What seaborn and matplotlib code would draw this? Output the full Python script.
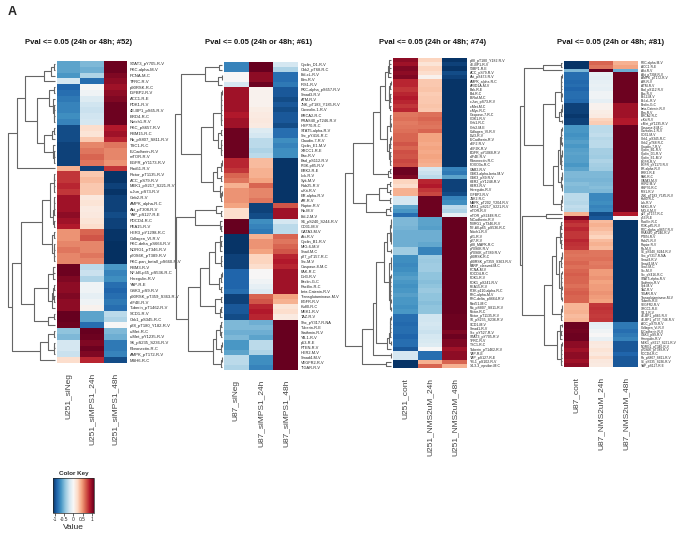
import numpy as np
import pandas as pd
import seaborn as sns
import matplotlib
matplotlib.use("Agg")
import matplotlib.pyplot as plt
from matplotlib.cm import ScalarMappable
from matplotlib.colors import Normalize

# ---------------- data ----------------
p1_title = "Pval <= 0.05 (24h or 48h; #52)"
p1_cols = ["U251_siNeg", "U251_siMPS1_24h", "U251_siMPS1_48h"]
p1_rows = ("STAT3_pY705-R-V PKC-alpha-M-V PCNA-M-C TFRC-R-V p90RSK-R-C IGFBP2-R-V ACC1-R-E PDK1-R-V "
           "4E-BP1_pS65-R-V BRD4-R-C Notch1-R-V PKC_pS657-R-V RBM15-R-C Rb_pS807_S811-R-V TSC1-R-C "
           "E-Cadherin-R-V mTOR-R-V EGFR_pY1173-R-V Rad51-R-V Rictor_pT1135-R-V ACC_pS79-R-V "
           "MEK1_pS217_S221-R-V c-Jun_pS73-R-V Gab2-R-V AMPK_alpha-R-C Akt_pT308-R-V YAP_pS127-R-E "
           "PDCD4-R-C PEA15-R-V HER3_pY1298-R-C Collagen_VI-R-V PKC-delta_pS664-R-V NDRG1_pT346-R-V "
           "p70S6K_pT389-R-V PKC-pan_betaII_pS660-R-V RBM3-R-V NF-kB-p65_pS536-R-C Heregulin-R-V YAP-R-E "
           "GSK3_pS9-R-V p90RSK_pT359_S363-R-V eIF4E-R-V Tuberin_pT1462-R-V SCD1-R-V Chk1_pS345-R-C "
           "p38_pT180_Y182-R-V c-Met-R-C c-Met_pY1235-R-V S6_pS235_S236-R-V Fibronectin-R-C "
           "AMPK_pT172-R-V MSH6-R-C").split()
p1_c1 = [-0.60, -0.60, -0.65, -0.20, -0.90, -0.85, -0.80, -0.75, -0.75, -0.70,
         -0.75, -1.00, -1.00, -1.00, -1.05, -1.05, -1.05, -1.05, 0.40, 0.80,
         0.80, 0.85, 0.80, 0.95, 0.95, 0.95, 1.00, 0.95, 0.90, 0.50,
         0.50, 0.55, 0.60, 0.55, 0.55, 1.10, 1.10, 1.05, 1.00, 1.00,
         1.05, 1.00, 1.00, 1.15, 1.15, 1.10, -0.45, -0.50, -0.20, -0.20,
         -0.25, 0.20]
p1_c2 = [-0.50, -0.55, -0.35, -0.85, 0.00, -0.05, -0.15, -0.22, -0.25, -0.22,
         -0.20, 0.20, 0.15, 0.30, 0.55, 0.60, 0.65, 0.60, -1.05, 0.30,
         0.35, 0.30, 0.30, 0.12, 0.15, 0.10, 0.12, 0.15, 0.20, 0.65,
         0.70, 0.55, 0.55, 0.60, 0.55, -0.30, -0.25, -0.35, -0.05, -0.05,
         -0.10, -0.05, 0.05, -0.60, -0.60, -0.85, 1.15, 1.10, 1.05, 1.10,
         1.05, 0.85]
p1_c3 = [1.10, 1.10, 1.05, 1.00, 0.95, 1.00, 1.05, 1.10, 1.10, 1.10,
         1.10, 0.90, 0.95, 0.85, 0.60, 0.55, 0.55, 0.50, 0.80, -1.10,
         -1.10, -1.05, -1.10, -1.05, -1.05, -1.05, -1.00, -1.05, -1.05, -1.10,
         -1.10, -1.15, -1.15, -1.15, -1.15, -0.65, -0.75, -0.70, -0.85, -0.90,
         -0.85, -0.80, -0.85, -0.30, -0.35, 0.00, -0.50, -0.55, -0.80, -0.80,
         -0.75, -1.00]

p2_title = "Pval <= 0.05 (24h or 48h; #61)"
p2_cols = ["U87_siNeg", "U87_siMPS1_24h", "U87_siMPS1_48h"]
p2_rows = ("Cyclin_D1-R-V Chk2_pT68-R-C Bcl-xL-R-V Bim-R-V IRS1-R-V PKC-alpha_pS657-R-V Smad3-R-V ATM-R-V "
           "JNK_pT183_Y185-R-V Caveolin-1-R-V BRCA2-R-C PRAS40_pT246-R-V HSP70-R-C STAT5-alpha-R-V "
           "Src_pY416-R-C Claudin-7-R-V Cyclin_E1-M-V XRCC1-R-E Bax-R-V Bad_pS112-R-V PI3K-p85-R-V "
           "ERK2-R-E Lck-R-V Syk-M-V Rab25-R-V c-Kit-R-V ER-alpha-R-V AR-R-V Raptor-R-V Rb-M-V Bcl-2-M-V "
           "S6_pS240_S244-R-V CD31-M-V GATA3-M-V Akt-R-V Cyclin_B1-R-V MIG-6-M-V Snail-M-C p27_pT157-R-C "
           "Src-M-V Caspase-8-M-C FAK-R-C Dvl3-R-V Beclin-G-C Paxillin-R-C beta-Catenin-R-V "
           "Transglutaminase-M-V EGFR-R-V Ku80-R-C MEK1-R-V TAZ-R-V Shc_pY317-R-NA Tuberin-R-E "
           "Stathmin-R-V YB-1-R-V p53-R-E PTEN-R-V HER2-M-V Smad4-M-V VEGFR2-R-V TIGAR-R-V").split()
p2_c1 = [-0.75, -0.75, 0.00, 0.00, -0.20, 0.95, 0.95, 0.95, 0.95, 0.95,
         0.90, 0.95, 0.95, 1.10, 1.10, 1.10, 1.10, 1.10, 1.10, 0.85,
         0.85, 0.80, 0.65, 0.60, 0.40, 0.50, 0.50, 0.50, 0.45, 0.20,
         0.20, 1.15, 1.15, 1.15, -1.10, -1.10, -1.10, -1.10, -1.05, -1.05,
         -1.05, -0.90, -0.90, -0.90, -0.90, -0.85, -1.05, -1.05, -0.95, -0.95,
         -1.00, -0.50, -0.50, -0.55, -0.50, -0.65, -0.65, -0.60, -0.30, -0.30,
         -0.35]
p2_c2 = [1.15, 1.15, 1.00, 1.00, 1.10, 0.05, 0.05, 0.05, 0.05, 0.08,
         0.10, 0.12, 0.10, -0.15, -0.20, -0.30, -0.30, -0.35, -0.30, 0.35,
         0.35, 0.40, 0.40, 0.45, 0.65, 0.55, 0.55, 0.60, -1.05, -1.05,
         -1.00, -0.70, -0.75, -0.80, 0.40, 0.50, 0.50, 0.45, 0.25, 0.25,
         0.20, 0.00, 0.00, -0.05, -0.10, -0.15, 0.65, 0.70, 0.85, 0.90,
         0.85, -0.55, -0.50, -0.55, -0.60, -0.30, -0.30, -0.35, -0.70, -0.70,
         -0.75]
p2_c3 = [-0.20, -0.35, -0.85, -0.85, -0.80, -0.95, -0.95, -1.00, -0.95, -1.00,
         -0.95, -0.95, -1.00, -0.85, -0.85, -0.70, -0.75, -0.70, -0.70, -1.10,
         -1.10, -1.10, -1.10, -1.10, -1.10, -1.10, -1.10, -1.10, 0.70, 0.95,
         0.95, -0.20, -0.30, -0.30, 0.65, 0.60, 0.65, 0.70, 0.85, 0.90,
         0.85, 0.95, 0.95, 0.95, 0.95, 0.95, 0.45, 0.40, 0.15, 0.20,
         0.10, 1.15, 1.15, 1.15, 1.15, 1.15, 1.15, 1.15, 1.15, 1.15,
         1.15]

p3_title = "Pval <= 0.05 (24h or 48h; #74)"
p3_cols = ["U251_cont", "U251_NMS2uM_24h", "U251_NMS2uM_48h"]
p3_rows = ("p38_pT180_Y182-R-V 4E-BP1-R-V 53BP1-R-E ACC_pS79-R-V Akt_pS473-R-V AMPK_alpha-R-C ARID1A-M-V "
           "Bak-R-E Bid-R-C B-Raf-M-C c-Jun_pS73-R-V c-Met-M-C c-Myc-R-C Caspase-7-R-C CDK1-R-V Chk1-R-C "
           "Chk2-M-E Collagen_VI-R-V Dvl3-R-V E-Cadherin-R-V eEF2-R-V eEF2K-R-V EGFR_pY1068-R-V eIF4E-R-V "
           "Fibronectin-R-C FOXO3a-R-C GAB2-R-V GSK3-alpha-beta-M-V GSK3_pS9-R-V HER2_pY1248-R-V HER3-R-V "
           "Heregulin-R-V IGFBP2-R-V JNK2-R-C MAPK_pT202_Y204-R-V MEK1_pS217_S221-R-V mTOR-R-V "
           "mTOR_pS2448-R-C N-Cadherin-R-V NDRG1_pT346-R-V NF-kB-p65_pS536-R-C Notch1-R-V p21-R-V p27-R-V "
           "p38_MAPK-R-C p70S6K-R-V p70S6K_pT389-R-V p90RSK-R-C p90RSK_pT359_S363-R-V PARP_cleaved-M-C "
           "PCNA-M-V PDCD4-R-C PDK1-R-V PDK1_pS241-R-V PEA15-R-V PI3K-p110-alpha-R-C PKC-alpha-M-V "
           "PKC-delta_pS664-R-V Rad51-M-C Rb_pS807_S811-R-V Rictor-R-C Rictor_pT1135-R-V S6_pS235_S236-R-V "
           "SCD1-M-V Smad1-R-V Src_pY527-R-V STAT3_pY705-R-V TFRC-R-V TSC1-R-C Tuberin_pT1462-R-V YAP-R-E "
           "YAP_pS127-R-E YB-1_pS102-R-V 14-3-3_epsilon-M-C").split()
p3_c1 = [1.00, 0.95, 1.05, 1.00, 1.05,
         0.85, 0.85, 0.80, 0.85, 0.90, 0.85, 0.80, 0.85,
         0.60, 0.62, 0.58, 0.60, 0.62,
         0.65, 0.65, 0.70, 0.65,
         0.72, 0.70, 0.75, 0.72,
         1.10, 1.10, 1.05,
         0.25, 0.20, 0.40, 0.40,
         -0.20, -0.20,
         -0.60, -0.65, -0.85,
         -0.50, -0.50, -0.52, -0.55, -0.55, -0.55, -0.55,
         -0.40, -0.40,
         -0.70, -0.70, -0.72, -0.70,
         -0.65, -0.62, -0.65, -0.68, -0.65, -0.62, -0.65, -0.65, -0.68, -0.65,
         -0.85, -0.85, -0.88, -0.85, -0.85, -0.90, -0.85, -0.85, -0.95,
         -0.20, -0.20,
         -1.10, -1.10]
p3_c2 = [0.25, 0.15, 0.25, 0.20, 0.05,
         0.30, 0.30, 0.32, 0.28, 0.30, 0.30, 0.32, 0.30,
         0.62, 0.65, 0.62, 0.60, 0.65,
         0.45, 0.45, 0.42, 0.45,
         0.42, 0.45, 0.42, 0.40,
         -0.20, -0.25, -0.30,
         0.85, 0.90, 0.80, 0.75,
         1.10, 1.10,
         1.10, 1.10, 1.10,
         -0.60, -0.60, -0.62, -0.55, -0.55, -0.55, -0.58,
         -0.75, -0.75,
         -0.40, -0.42, -0.40, -0.40,
         -0.45, -0.45, -0.48, -0.45, -0.42, -0.45, -0.45, -0.48, -0.45, -0.45,
         -0.22, -0.22, -0.20, -0.22, -0.25, -0.20, -0.18, -0.15, 0.00,
         -0.85, -0.85,
         0.40, 0.65]
p3_c3 = [-1.10, -1.05, -1.10, -1.00, -1.05,
         -1.10, -1.10, -1.10, -1.10, -1.10, -1.10, -1.10, -1.10,
         -1.10, -1.10, -1.10, -1.10, -1.10,
         -1.10, -1.10, -1.10, -1.10,
         -1.10, -1.10, -1.10, -1.10,
         -0.75, -0.80, -0.60,
         -1.05, -1.05, -1.05, -1.00,
         -0.75, -0.70,
         -0.30, -0.35, -0.10,
         1.15, 1.15, 1.15, 1.15, 1.15, 1.15, 1.15,
         1.15, 1.15,
         1.15, 1.15, 1.15, 1.15,
         1.15, 1.15, 1.15, 1.15, 1.15, 1.15, 1.15, 1.15, 1.15, 1.15,
         1.10, 1.10, 1.10, 1.10, 1.05, 1.10, 1.05, 1.05, 0.95,
         1.00, 1.00,
         0.65, 0.40]

p4_title = "Pval <= 0.05 (24h or 48h; #81)"
p4_cols = ["U87_cont", "U87_NMS2uM_24h", "U87_NMS2uM_48h"]
p4_rows = ("PKC-alpha-M-V ACC1-R-E Akt-R-V Akt_pT308-R-V AMPK_pT172-R-V AR-R-V ATM-R-V Bad_pS112-R-V Bax-R-V "
           "Bcl-2-M-V Bcl-xL-R-V Beclin-G-C beta-Catenin-R-V Bim-R-V BRCA2-R-C c-Kit-R-V c-Met_pY1235-R-V "
           "Caspase-8-M-C Caveolin-1-R-V CD31-M-V Chk1_pS345-R-C Chk2_pT68-R-C Claudin-7-R-V Cyclin_B1-R-V "
           "Cyclin_D1-R-V Cyclin_E1-M-V EGFR-R-V EGFR_pY1173-R-V ER-alpha-R-V ERK2-R-E FAK-R-C GATA3-M-V "
           "HER2-M-V HSP70-R-C IRS1-R-V JNK_pT183_Y185-R-V Ku80-R-C Lck-R-V MEK1-R-V MIG-6-M-V "
           "p27_pT157-R-C p53-R-E Paxillin-R-C PI3K-p85-R-V PKC-alpha_pS657-R-V PRAS40_pT246-R-V PTEN-R-V "
           "Rab25-R-V Raptor-R-V Rb-M-V S6_pS240_S244-R-V Shc_pY317-R-NA Smad3-R-V Smad4-M-V Snail-M-C "
           "Src-M-V Src_pY416-R-C STAT5-alpha-R-V Stathmin-R-V Syk-M-V TAZ-R-V TIGAR-R-V "
           "Transglutaminase-M-V Tuberin-R-E VEGFR2-R-V XRCC1-R-E YB-1-R-V 4E-BP1_pS65-R-V "
           "4E-BP1_pT37_T46-R-V ACC_pS79-R-V Collagen_VI-R-V E-Cadherin-R-V GSK3_pS9-R-V Heregulin-R-V "
           "MEK1_pS217_S221-R-V NDRG1_pT346-R-V p70S6K_pT389-R-V PDCD4-R-C Rb_pS807_S811-R-V "
           "S6_pS235_S236-R-V YAP_pS127-R-E").split()
p4_c1 = [-1.10, -1.10, -0.50,
         -0.85, -0.85, -0.88, -0.85, -0.90, -0.85, -0.85, -0.88,
         -1.05, -1.05, -1.05, -1.08,
         -1.05, -1.05,
         -0.65, -0.65, -0.68, -0.65, -0.62, -0.65,
         -0.62, -0.60, -0.62, -0.62, -0.65, -0.60,
         -0.50, -0.50, -0.52, -0.48, -0.50, -0.50,
         -0.30, -0.30, -0.32, -0.28, -0.30,
         0.40, 1.05,
         0.85, 0.80, 0.85, 0.80, 0.80, 0.85, 0.82, 0.80,
         0.62, 0.60, 0.62, 0.65, 0.62,
         0.65, 0.68, 0.65, 0.65, 0.62, 0.65, 0.68, 0.65, 0.65,
         0.38, 0.38, 0.40, 0.35, 0.38,
         1.10, 1.10, 1.08, 1.10, 1.10,
         1.00, 1.00, 0.95, 1.00, 1.00, 0.95, 1.00]
p4_c2 = [0.65, 0.60, 1.15,
         -0.10, -0.12, -0.10, -0.08, -0.10, -0.05, -0.05, -0.10,
         0.05, 0.05, 0.08, 0.10,
         0.25, 0.28,
         -0.30, -0.30, -0.28, -0.32, -0.30, -0.30,
         -0.38, -0.38, -0.40, -0.35, -0.38, -0.40,
         -0.50, -0.50, -0.52, -0.50, -0.48, -0.50,
         -0.72, -0.72, -0.70, -0.75, -0.72,
         -1.00, -0.95,
         0.35, 0.40, 0.35, 0.30, 0.25, 0.35, 0.40, 0.35,
         0.60, 0.60, 0.62, 0.58, 0.60,
         0.48, 0.48, 0.50, 0.45, 0.48, 0.48, 0.50, 0.48, 0.45,
         0.80, 0.82, 0.80, 0.78, 0.80,
         -0.12, -0.10, -0.05, 0.00, -0.08,
         0.12, 0.10, 0.15, 0.12, 0.20, 0.12, 0.10]
p4_c3 = [0.40, 0.45, -0.55,
         1.10, 1.10, 1.10, 1.10, 1.10, 1.10, 1.10, 1.10,
         0.95, 0.95, 0.95, 0.95,
         0.90, 0.90,
         1.15, 1.15, 1.15, 1.15, 1.15, 1.15,
         1.15, 1.15, 1.15, 1.15, 1.15, 1.15,
         1.15, 1.15, 1.15, 1.15, 1.15, 1.15,
         1.15, 1.15, 1.15, 1.15, 1.15,
         0.90, 0.00,
         -1.10, -1.10, -1.10, -1.10, -1.10, -1.10, -1.10, -1.10,
         -1.10, -1.10, -1.10, -1.10, -1.10,
         -1.10, -1.10, -1.10, -1.10, -1.10, -1.10, -1.10, -1.10, -1.10,
         -1.10, -1.10, -1.10, -1.10, -1.10,
         -0.80, -0.80, -0.85, -0.80, -0.75,
         -0.95, -0.95, -0.95, -0.90, -0.95, -0.95, -0.95]

key_ticks = [-1, -0.5, 0, 0.5, 1]
key_ticklabels = ["-1", "-0.5", "0", "0.5", "1"]

# ---------------- layout (pixels) ----------------
W, H = 700, 537
VMIN, VMAX = -1.12, 1.12
CMAP = "RdBu_r"

sns.set_theme(style="white")
plt.rcParams["font.family"] = ["Liberation Sans", "DejaVu Sans"]

fig = plt.figure(figsize=(W / 100, H / 100), dpi=100)


def box(x0, y0, x1, y1):
    return [x0 / W, 1 - y1 / H, (x1 - x0) / W, (y1 - y0) / H]


def contiguous_complete_linkage(X):
    """Agglomerative clustering (complete linkage, Euclidean) that only merges
    neighbouring clusters, so the drawn row order is kept."""
    X = np.asarray(X, float)
    D = np.sqrt(((X[:, None, :] - X[None, :, :]) ** 2).sum(-1))
    members = [[i] for i in range(len(X))]
    pos = [i + 0.5 for i in range(len(X))]
    hts = [0.0] * len(X)
    segs = []
    while len(members) > 1:
        best_d, best_k = None, None
        for k in range(len(members) - 1):
            d = D[np.ix_(members[k], members[k + 1])].max()
            if best_d is None or d < best_d:
                best_d, best_k = d, k
        k, d = best_k, best_d
        segs.append(([hts[k], d, d, hts[k + 1]], [pos[k], pos[k], pos[k + 1], pos[k + 1]]))
        members[k:k + 2] = [members[k] + members[k + 1]]
        pos[k:k + 2] = [(pos[k] + pos[k + 1]) / 2]
        hts[k:k + 2] = [d]
    return segs, hts[0]


panels = [
    dict(title=p1_title, cols=p1_cols, rows=p1_rows, vals=(p1_c1, p1_c2, p1_c3),
         heat=(57, 61, 127, 363), dleft=8, tx=79, fs=3.0),
    dict(title=p2_title, cols=p2_cols, rows=p2_rows, vals=(p2_c1, p2_c2, p2_c3),
         heat=(224, 62, 298, 370), dleft=175, tx=259, fs=2.8),
    dict(title=p3_title, cols=p3_cols, rows=p3_rows, vals=(p3_c1, p3_c2, p3_c3),
         heat=(393, 58, 467, 368), dleft=345, tx=433, fs=2.5),
    dict(title=p4_title, cols=p4_cols, rows=p4_rows, vals=(p4_c1, p4_c2, p4_c3),
         heat=(564, 61, 638, 367), dleft=520, tx=611, fs=2.3),
]

for p in panels:
    x0, y0, x1, y1 = p["heat"]
    df = pd.DataFrame({c: v for c, v in zip(p["cols"], p["vals"])}, index=p["rows"])
    n = len(df)

    axh = fig.add_axes(box(x0, y0, x1, y1))
    sns.heatmap(df, ax=axh, cmap=CMAP, vmin=VMIN, vmax=VMAX, cbar=False,
                xticklabels=True, yticklabels=True)
    axh.yaxis.tick_right()
    axh.set_yticks(np.arange(n) + 0.5)
    axh.set_yticklabels(p["rows"], rotation=0, fontsize=p["fs"], color="#222")
    axh.set_xticklabels(p["cols"], rotation=90, fontsize=6, color="#444")
    axh.tick_params(axis="y", length=0, pad=2)
    axh.tick_params(axis="x", length=0, pad=7)
    axh.set_xlabel("")
    axh.set_ylabel("")

    segs, root = contiguous_complete_linkage(df.values)
    axd = fig.add_axes(box(p["dleft"], y0, x0 - 2, y1))
    for xs, ys in segs:
        axd.plot(xs, ys, color="#666666", lw=0.8, clip_on=False, solid_capstyle="butt")
    axd.set_ylim(n, 0)
    axd.set_xlim(root, 0)
    axd.axis("off")

    fig.text(p["tx"] / W, 1 - 42 / H, p["title"], ha="center", va="center",
             fontsize=5.5, fontweight="bold", color="#111")

fig.text(8 / W, 1 - 12 / H, "A", ha="left", va="center", fontsize=9, fontweight="bold")

# colour key
cax = fig.add_axes(box(52.7, 478, 94, 513))
sm = ScalarMappable(norm=Normalize(VMIN, VMAX), cmap=CMAP)
cb = fig.colorbar(sm, cax=cax, orientation="horizontal")
cb.set_ticks(key_ticks)
cb.set_ticklabels(key_ticklabels)
cb.outline.set_linewidth(0.5)
cax.tick_params(labelsize=3.5, length=2, width=0.5, pad=1)
cax.set_title("Color Key", fontsize=4.5, fontweight="bold", pad=2)
cax.set_xlabel("Value", fontsize=6, labelpad=1)

fig.savefig("out.png", dpi=100)
